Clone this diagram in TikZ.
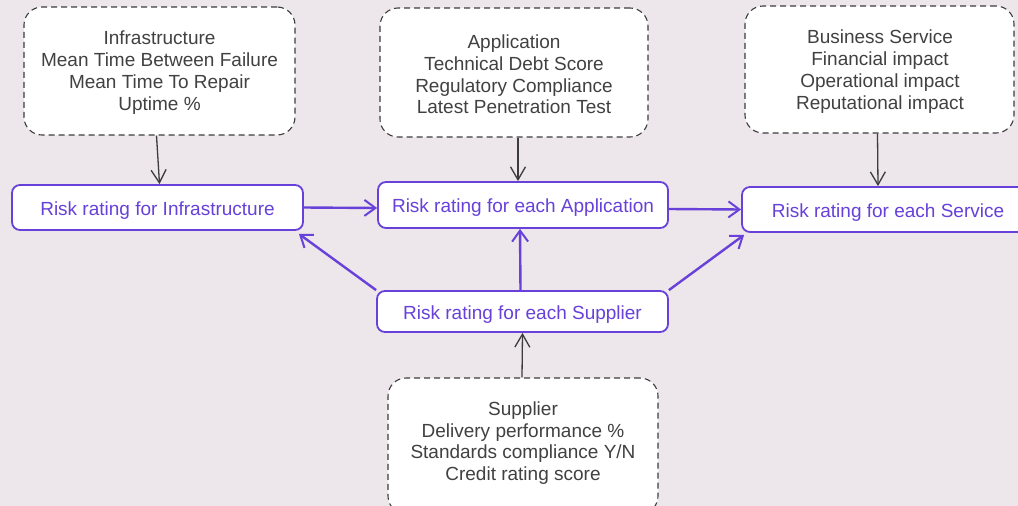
\documentclass[tikz,border=0pt]{standalone}
\usepackage{fontspec}
\setmainfont{Liberation Sans}
\usetikzlibrary{arrows.meta}
\definecolor{bg}{RGB}{237,230,235}
\definecolor{vio}{RGB}{103,65,217}
\definecolor{gr}{RGB}{60,60,60}
\definecolor{txt}{RGB}{65,65,65}
\begin{document}
\begin{tikzpicture}[x=1pt,y=-1pt,
  info/.style={draw=gr, dash pattern=on 6pt off 4pt, fill=white, rounded corners=18pt,
    line width=1.1pt, inner sep=0pt},
  infotext/.style={align=center, font=\fontsize{19}{21.8}\selectfont, text=txt, inner sep=0pt},
  risk/.style={draw=vio, fill=white, rounded corners=8pt, line width=1.8pt, text=vio,
    font=\fontsize{19}{21}\selectfont, inner sep=0pt, text height=19pt, text depth=4pt},
  garrow/.style={draw=gr, line width=1.3pt, -{Straight Barb[length=13pt,width=15pt,line width=1.3pt]}},
  parrow/.style={draw=vio, line width=2.4pt, -{Straight Barb[length=11pt,width=16pt,line width=2pt]}}
]
\fill[bg] (0,0) rectangle (1018,506);
\clip (0,0) rectangle (1018,506);

\node[info, minimum width=271pt, minimum height=128pt] (iinf) at (159.5,71) {};
\node[infotext] (tinf) at (159.5,72.5)
  {Infrastructure\\Mean Time Between Failure\\Mean Time To Repair\\Uptime \%};
\node[info, minimum width=268pt, minimum height=129pt] (iapp) at (514,72.5) {};
\node[infotext] (tapp) at (514,74.5)
  {Application\\Technical Debt Score\\Regulatory Compliance\\Latest Penetration Test};
\node[info, minimum width=269pt, minimum height=127pt] (ibus) at (879.5,69.5) {};
\node[infotext] (tbus) at (880,71.5)
  {Business Service\\Financial impact\\Operational impact\\Reputational impact};
\node[info, minimum width=270pt, minimum height=136pt] (isup) at (523,446) {};
\node[infotext] (tsup) at (523,443)
  {Supplier\\Delivery performance \%\\Standards compliance Y/N\\Credit rating score};

\node[risk, minimum width=291pt, minimum height=45pt] (rinf) at (157.5,207.5)
  {Risk rating for Infrastructure};
\node[risk, minimum width=290pt, minimum height=46pt] (rapp) at (523,205)
  {Risk rating for each Application};
\node[risk, minimum width=300pt, minimum height=45pt] (rsvc) at (892,209.5) {};
\node[risk, draw=none, fill=none] (tsvc) at (888,209.5) {Risk rating for each Service};
\node[risk, minimum width=291pt, minimum height=41pt] (rsup) at (522.5,311.5)
  {Risk rating for each Supplier};

\draw[garrow] ([xshift=-3pt]iinf.south) -- ([xshift=2pt]rinf.north);
\draw[garrow] ([xshift=4pt]iapp.south) -- ([xshift=-5pt]rapp.north);
\draw[garrow] ([xshift=-2pt]ibus.south) -- ([xshift=-14pt]rsvc.north);
\draw[garrow] ([xshift=-1pt]isup.north) -- (rsup.south);

\draw[parrow] (rinf.east) -- ([yshift=-3pt]rapp.west);
\draw[parrow] ([yshift=-4pt]rapp.east) -- (rsvc.west);
\draw[parrow] ([xshift=-2pt]rsup.north) -- ([xshift=-3pt]rapp.south);
\draw[parrow] (rsup.north west) -- ([xshift=-5pt,yshift=-3pt]rinf.south east);
\draw[parrow] (rsup.north east) -- ([xshift=3pt,yshift=-2pt]rsvc.south west);
\end{tikzpicture}
\end{document}
